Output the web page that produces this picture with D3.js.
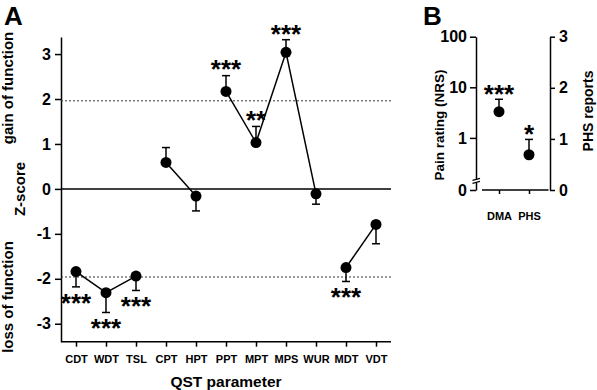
<!DOCTYPE html>
<html>
<head>
<meta charset="utf-8">
<script src="https://cdn.jsdelivr.net/npm/d3@7"></script>
<style>
  body { margin: 0; background: #fff; }
  svg { display: block; font-family: "Liberation Sans", Arial, sans-serif; }
  .axis path, .axis line { stroke: #000; stroke-width: 1.5; }
  .axis text { font-weight: bold; fill: #000; }
</style>
</head>
<body>
<div id="chart"></div>
<script>
// Panel A: QST z-scores
const qstParams = ["CDT", "WDT", "TSL", "CPT", "HPT", "PPT", "MPT", "MPS", "WUR", "MDT", "VDT"];
const zMeans = [-1.84, -2.31, -1.94, 0.59, -0.16, 2.17, 1.03, 3.04, -0.11, -1.75, -0.79];
const zErrors = [0.34, 0.44, 0.32, 0.33, 0.33, 0.35, 0.36, 0.28, 0.23, 0.31, 0.43];
const zStars = ["***", "***", "***", "", "", "***", "**", "***", "", "***", ""];
const lineGroups = [["CDT", "WDT", "TSL"], ["CPT", "HPT"], ["PPT", "MPT", "MPS", "WUR"], ["MDT", "VDT"]];
const zTicks = [-3, -2, -1, 0, 1, 2, 3];
const zCutoff = 1.96;

// Panel B: pain rating (log) and PHS reports
const bCategories = ["DMA", "PHS"];
const painMean = 3.3;
const painError = 2.5;
const phsMean = 0.69;
const phsError = 0.30;
const bStars = ["***", "*"];
const painTicks = [1, 10, 100];
const phsTicks = [0, 1, 2, 3];

const W = 597, H = 390;
const svg = d3.select("#chart").append("svg").attr("width", W).attr("height", H);
const plain = d => String(d);

const starSize = 26;
function starText(g, x, yCenter, s) {
  g.append("text")
    .attr("x", x)
    .attr("y", yCenter + starSize * 0.57)
    .attr("text-anchor", "middle")
    .style("font-size", starSize + "px")
    .style("font-weight", "bold")
    .text(s);
}

function errorBar(g, x, y0, y1) {
  g.append("line").attr("x1", x).attr("x2", x).attr("y1", y0).attr("y2", y1)
    .attr("stroke", "#000").attr("stroke-width", 1.5);
  g.append("line").attr("x1", x - 4).attr("x2", x + 4).attr("y1", y1).attr("y2", y1)
    .attr("stroke", "#000").attr("stroke-width", 1.5);
}

// ---------- Panel A ----------
const a = svg.append("g");
const x = d3.scalePoint().domain(qstParams).range([61, 391]).padding(0.5);
const y = d3.scaleLinear().domain([-3.4, 3.38]).range([341.7, 37]);

a.append("g").attr("class", "axis")
  .attr("transform", "translate(61,0)")
  .call(d3.axisLeft(y).tickValues(zTicks).tickFormat(plain).tickSize(6).tickSizeOuter(0).tickPadding(4))
  .selectAll("text").style("font-size", "16px");

a.append("g").attr("class", "axis")
  .attr("transform", "translate(0,341.7)")
  .call(d3.axisBottom(x).tickSize(5).tickSizeOuter(0).tickPadding(9))
  .call(g => g.select(".domain").attr("d", "M61,0H391"))
  .selectAll("text").style("font-size", "11px");

// zero line and significance cut-offs
a.append("line").attr("x1", 61).attr("x2", 391).attr("y1", y(0)).attr("y2", y(0))
  .attr("stroke", "#000").attr("stroke-width", 1.5);
[zCutoff, -zCutoff].forEach(v => {
  a.append("line").attr("x1", 61).attr("x2", 391).attr("y1", y(v)).attr("y2", y(v))
    .attr("stroke", "#333").attr("stroke-width", 1).attr("stroke-dasharray", "2,2");
});

const byParam = new Map(qstParams.map((p, i) => [p, i]));
const line = d3.line().x(i => x(qstParams[i])).y(i => y(zMeans[i]));
lineGroups.forEach(grp => {
  a.append("path").attr("d", line(grp.map(p => byParam.get(p))))
    .attr("fill", "none").attr("stroke", "#000").attr("stroke-width", 1.5);
});

qstParams.forEach((p, i) => {
  const m = zMeans[i];
  const end = m >= 0 ? m + zErrors[i] : m - zErrors[i];
  errorBar(a, x(p), y(m), y(end));
});

a.selectAll("circle.pt").data(qstParams).join("circle")
  .attr("cx", d => x(d)).attr("cy", (d, i) => y(zMeans[i])).attr("r", 5.5).attr("fill", "#000");

qstParams.forEach((p, i) => {
  if (!zStars[i]) return;
  const m = zMeans[i];
  const c = m >= 0 ? y(m + zErrors[i]) - 12 : y(m - zErrors[i]) + 10;
  starText(a, x(p), c, zStars[i]);
});

// labels
a.append("text").attr("x", 4).attr("y", 25).style("font-size", "26px").style("font-weight", "bold").text("A");

function vLabel(g, xx, yy, txt, size) {
  g.append("text").attr("transform", `translate(${xx},${yy}) rotate(-90)`)
    .attr("text-anchor", "middle").style("font-size", size + "px").style("font-weight", "bold").text(txt);
}
vLabel(a, 13, 88, "gain of function", 15);
vLabel(a, 25, 189, "Z-score", 15);
vLabel(a, 13, 297, "loss of function", 15);

a.append("text").attr("x", 226).attr("y", 387).attr("text-anchor", "middle")
  .style("font-size", "15.5px").style("font-weight", "bold").text("QST parameter");

// ---------- Panel B ----------
const b = svg.append("g");
const xb = d3.scalePoint().domain(bCategories).range([481, 547]).padding(0.6);
const yLog = d3.scaleLog().domain([0.152, 100]).range([179.3, 36.7]);
const yZero = d3.scaleLinear().domain([0, 0.1]).range([190, 182.3]);
const yPhs = d3.scaleLinear().domain([0, 3]).range([190, 36.7]);

b.append("g").attr("class", "axis").attr("transform", "translate(476,0)")
  .call(d3.axisLeft(yLog).tickValues(painTicks).tickFormat(plain).tickSize(6).tickSizeOuter(0).tickPadding(3))
  .selectAll("text").style("font-size", "16px");

b.append("g").attr("class", "axis").attr("transform", "translate(476,0)")
  .call(d3.axisLeft(yZero).tickValues([0]).tickFormat(plain).tickSize(6).tickSizeOuter(0).tickPadding(3))
  .selectAll("text").style("font-size", "16px");

// axis break marks
[179.3, 182.3].forEach(v => {
  b.append("line").attr("x1", 472.5).attr("x2", 480).attr("y1", v + 1).attr("y2", v - 1)
    .attr("stroke", "#000").attr("stroke-width", 1.2);
});

b.append("g").attr("class", "axis").attr("transform", "translate(550,0)")
  .call(d3.axisRight(yPhs).tickValues(phsTicks).tickFormat(plain).tickSize(5).tickSizeOuter(0).tickPadding(4))
  .selectAll("text").style("font-size", "16px");

b.append("g").attr("class", "axis").attr("transform", "translate(0,190)")
  .call(d3.axisBottom(xb).tickSize(4).tickSizeOuter(0).tickPadding(18))
  .call(g => g.select(".domain").attr("d", "M482,0H548.5"))
  .selectAll("text").style("font-size", "11px");

const bPts = [
  { cat: "DMA", y0: yLog(painMean), y1: yLog(painMean + painError) },
  { cat: "PHS", y0: yPhs(phsMean), y1: yPhs(phsMean + phsError) }
];
bPts.forEach((d, i) => {
  errorBar(b, xb(d.cat), d.y0, d.y1);
  b.append("circle").attr("cx", xb(d.cat)).attr("cy", d.y0).attr("r", 5.5).attr("fill", "#000");
  starText(b, xb(d.cat), d.y1 - 11, bStars[i]);
});

b.append("text").attr("x", 423).attr("y", 25).style("font-size", "26px").style("font-weight", "bold").text("B");
vLabel(b, 444, 125, "Pain rating (NRS)", 13.5);
vLabel(b, 593, 111, "PHS reports", 14);
</script>
</body>
</html>
